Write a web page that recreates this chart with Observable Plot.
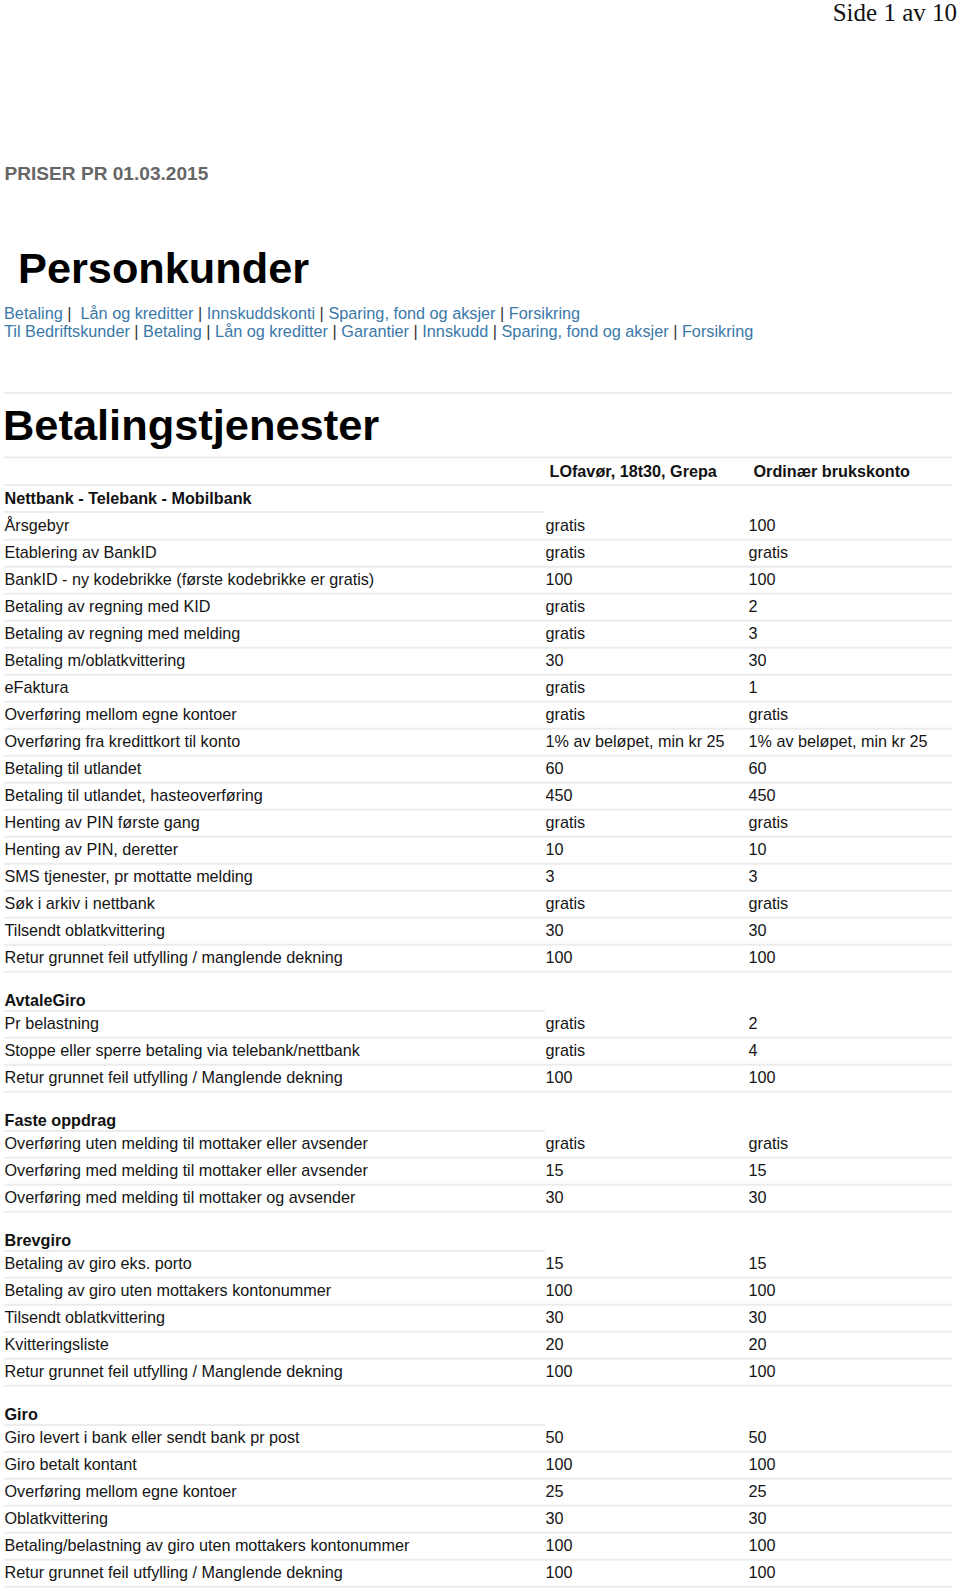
<!DOCTYPE html>
<html>
<head>
<meta charset="utf-8">
<script src="https://cdn.jsdelivr.net/npm/d3@7"></script>
<script src="https://cdn.jsdelivr.net/npm/@observablehq/plot@0.6"></script>
<style>
  html, body { margin: 0; padding: 0; background: #fff; }
  #page { position: relative; width: 960px; height: 1588px; overflow: hidden; font-family: "Liberation Sans", Arial, sans-serif; }
  .abs { position: absolute; white-space: pre; }
  #side { right: 3px; top: 0px; font: 25px/25px "Liberation Serif", "Times New Roman", serif; color: #111; }
  #priser { left: 4.5px; top: 164.4px; font: bold 19.1px/19px "Liberation Sans", Arial, sans-serif; color: #666; }
  #h1 { left: 18px; top: 247px; font: bold 43.3px/43px "Liberation Sans", Arial, sans-serif; color: #000; }
  #links { left: 4px; top: 303.5px; font: 16.25px/18.4px "Liberation Sans", Arial, sans-serif; color: #3a78a8; }
  #links .sep { color: #333; }
  #hr { left: 4px; top: 392px; width: 948px; height: 2px; background: #ececec; }
  #h2 { left: 3px; top: 403.6px; font: bold 43.4px/43px "Liberation Sans", Arial, sans-serif; color: #000; }
  #chart { position: absolute; left: 0; top: 450px; }
</style>
</head>
<body>
<div id="page">
  <div id="side" class="abs"></div>
  <div id="priser" class="abs"></div>
  <div id="h1" class="abs"></div>
  <div id="links" class="abs"></div>
  <div id="hr" class="abs"></div>
  <div id="h2" class="abs"></div>
  <div id="chart"></div>
</div>
<script>
// ---------- data ----------
const pageLabel = "Side 1 av 10";
const dateLabel = "PRISER PR 01.03.2015";
const pageTitle = "Personkunder";
const navLine1 = ["Betaling", " Lån og kreditter", "Innskuddskonti", "Sparing, fond og aksjer", "Forsikring"];
const navLine2 = ["Til Bedriftskunder", "Betaling", "Lån og kreditter", "Garantier", "Innskudd", "Sparing, fond og aksjer", "Forsikring"];
const tableTitle = "Betalingstjenester";
const columns = ["LOfavør, 18t30, Grepa", "Ordinær brukskonto"];

const sectionTitles = ["Nettbank - Telebank - Mobilbank", "AvtaleGiro", "Faste oppdrag", "Brevgiro", "Giro"];

const nettbank = [
  ["Årsgebyr", "gratis", "100"],
  ["Etablering av BankID", "gratis", "gratis"],
  ["BankID - ny kodebrikke (første kodebrikke er gratis)", "100", "100"],
  ["Betaling av regning med KID", "gratis", "2"],
  ["Betaling av regning med melding", "gratis", "3"],
  ["Betaling m/oblatkvittering", "30", "30"],
  ["eFaktura", "gratis", "1"],
  ["Overføring mellom egne kontoer", "gratis", "gratis"],
  ["Overføring fra kredittkort til konto", "1% av beløpet, min kr 25", "1% av beløpet, min kr 25"],
  ["Betaling til utlandet", "60", "60"],
  ["Betaling til utlandet, hasteoverføring", "450", "450"],
  ["Henting av PIN første gang", "gratis", "gratis"],
  ["Henting av PIN, deretter", "10", "10"],
  ["SMS tjenester, pr mottatte melding", "3", "3"],
  ["Søk i arkiv i nettbank", "gratis", "gratis"],
  ["Tilsendt oblatkvittering", "30", "30"],
  ["Retur grunnet feil utfylling / manglende dekning", "100", "100"]
];
const avtaleGiro = [
  ["Pr belastning", "gratis", "2"],
  ["Stoppe eller sperre betaling via telebank/nettbank", "gratis", "4"],
  ["Retur grunnet feil utfylling / Manglende dekning", "100", "100"]
];
const fasteOppdrag = [
  ["Overføring uten melding til mottaker eller avsender", "gratis", "gratis"],
  ["Overføring med melding til mottaker eller avsender", "15", "15"],
  ["Overføring med melding til mottaker og avsender", "30", "30"]
];
const brevgiro = [
  ["Betaling av giro eks. porto", "15", "15"],
  ["Betaling av giro uten mottakers kontonummer", "100", "100"],
  ["Tilsendt oblatkvittering", "30", "30"],
  ["Kvitteringsliste", "20", "20"],
  ["Retur grunnet feil utfylling / Manglende dekning", "100", "100"]
];
const giro = [
  ["Giro levert i bank eller sendt bank pr post", "50", "50"],
  ["Giro betalt kontant", "100", "100"],
  ["Overføring mellom egne kontoer", "25", "25"],
  ["Oblatkvittering", "30", "30"],
  ["Betaling/belastning av giro uten mottakers kontonummer", "100", "100"],
  ["Retur grunnet feil utfylling / Manglende dekning", "100", "100"]
];
const sectionRows = [nettbank, avtaleGiro, fasteOppdrag, brevgiro, giro];

// ---------- header (HTML) ----------
document.getElementById("side").textContent = pageLabel;
document.getElementById("priser").textContent = dateLabel;
document.getElementById("h1").textContent = pageTitle;
document.getElementById("h2").textContent = tableTitle;
function navHTML(items) {
  return items.map(t => `<span>${t}</span>`).join(`<span class="sep"> | </span>`);
}
document.getElementById("links").innerHTML = navHTML(navLine1) + "\n" + navHTML(navLine2);

// ---------- layout of the table (page pixel units) ----------
const ROW = 27;
const topRule = 457, colHeadY = 471.5, colHeadRule = 484.5;
const firstSecHeadY = 498, secRuleOffset = 13.5, firstRowGap = 27.7;
const secGap = 42.7, secRuleOffsetN = 10.2, firstRowGapN = 23.3;
const rowRuleOffset = 13.5;
const xLabel = 4, xCol = [545, 748], xColHead = [549, 753];
const xLeft = 4, xRight = 952, xShort = 545;

const texts = [];   // {x, y, text, bold}
const rules = [];   // {y, x1, x2}
rules.push({y: topRule, x1: xLeft, x2: xRight});
columns.forEach((c, i) => texts.push({x: xColHead[i], y: colHeadY, text: c, bold: true}));
rules.push({y: colHeadRule, x1: xLeft, x2: xRight});

let lastRowY = null;
sectionTitles.forEach((title, s) => {
  let headY, ruleY, rowY;
  if (s === 0) {
    headY = firstSecHeadY; ruleY = headY + secRuleOffset; rowY = headY + firstRowGap;
  } else {
    headY = lastRowY + secGap; ruleY = headY + secRuleOffsetN; rowY = headY + firstRowGapN;
  }
  texts.push({x: xLabel, y: headY, text: title, bold: true});
  rules.push({y: ruleY, x1: xLeft, x2: xShort});
  sectionRows[s].forEach((r, k) => {
    const y = rowY + k * ROW;
    texts.push({x: xLabel, y, text: r[0], bold: false});
    texts.push({x: xCol[0], y, text: r[1], bold: false});
    texts.push({x: xCol[1], y, text: r[2], bold: false});
    rules.push({y: y + rowRuleOffset, x1: xLeft, x2: xRight});
    lastRowY = y;
  });
});

const svgTop = 450, svgH = 1588 - svgTop;

const chart = Plot.plot({
  width: 960,
  height: svgH,
  margin: 0,
  x: {type: "linear", domain: [0, 960], range: [0, 960], axis: null},
  y: {type: "linear", domain: [svgTop, 1588], range: [0, svgH], axis: null},
  style: {fontFamily: '"Liberation Sans", Arial, sans-serif', background: "#fff"},
  marks: [
    Plot.ruleY(rules, {y: "y", x1: "x1", x2: "x2", stroke: "#ececec", strokeWidth: 2}),
    Plot.text(texts.filter(d => !d.bold), {x: "x", y: "y", text: "text", textAnchor: "start", fontSize: 16.2, fill: "#151515"}),
    Plot.text(texts.filter(d => d.bold), {x: "x", y: "y", text: "text", textAnchor: "start", fontSize: 16.2, fontWeight: "bold", fill: "#111"})
  ]
});
document.getElementById("chart").appendChild(chart);
</script>
</body>
</html>
